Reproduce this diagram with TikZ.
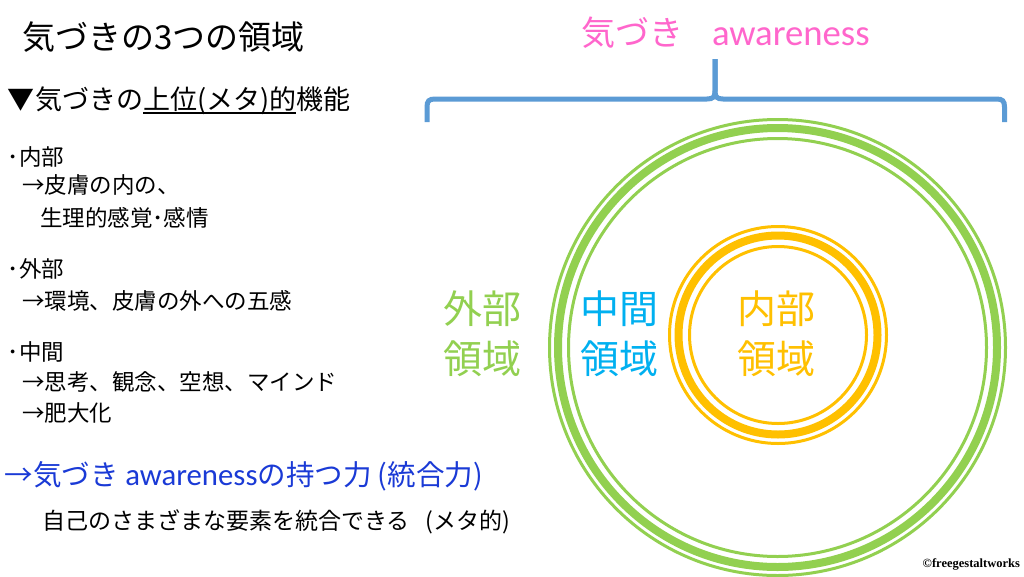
\documentclass[tikz,border=0pt]{standalone}
\usepackage{fontspec}
\setmainfont{Noto Sans CJK JP}
\newfontfamily\lat{Carlito}[Scale=1.08]
\newfontfamily\cserif{Liberation Serif}
\definecolor{ringgreen}{HTML}{92D050}
\definecolor{ringorange}{HTML}{FFC000}
\definecolor{midblue}{HTML}{00B0F0}
\definecolor{braceblue}{HTML}{5B9BD5}
\definecolor{awpink}{HTML}{FF66CC}
\definecolor{awblue}{HTML}{1A3AD6}
\begin{document}
\begin{tikzpicture}[x=1pt,y=-1pt,
  every node/.style={inner sep=0pt, outer sep=0pt},
  txt/.style={anchor=base west, text=black},
  titlef/.style={txt, font=\fontsize{33}{38}\selectfont},
  headf/.style={txt, font=\fontsize{27}{32}\selectfont},
  listf/.style={txt, font=\fontsize{22.5}{27}\selectfont},
  bluef/.style={txt, text=awblue, font=\fontsize{28.5}{34}\selectfont},
  notef/.style={txt, font=\fontsize{23}{28}\selectfont},
  region/.style={anchor=base, font=\fontsize{39}{46}\selectfont},
  thinring/.style={line width=3pt},
  thickring/.style={line width=8pt},
  bracestyle/.style={draw=braceblue, line width=5pt, line cap=butt}
]
\useasboundingbox[fill=white] (0,0) rectangle (1024,576);

% left text
\node[titlef] (title) at (22,49) {気づきの3つの領域};
\node[headf] (h1) at (8,109) {▼気づきの};
\node[headf] (h2) at (h1.base east) {上位(メタ)的};
\node[headf] (h3) at (h2.base east) {機能};
\draw[line width=1.5pt] ([yshift=-4pt]h2.base west) -- ([yshift=-4pt]h2.base east);

\node[listf] (in0) at (8,165.3) {･内部};
\node[listf] (in1) at (22,193.3) {→皮膚の内の、};
\node[listf] (in2) at (40,226.3) {生理的感覚･感情};
\node[listf] (ex0) at (8,277.3) {･外部};
\node[listf] (ex1) at (22,309.3) {→環境、皮膚の外への五感};
\node[listf] (md0) at (8,360.3) {･中間};
\node[listf] (md1) at (22,390.3) {→思考、観念、空想、マインド};
\node[listf] (md2) at (22,421.3) {→肥大化};
\node[bluef] (pw) at (5,485) {→気づき {\lat awareness}の持つ力 (統合力)};
\node[notef] (nt) at (42,529.5) {自己のさまざまな要素を統合できる\hspace{0.7em}(メタ的)};

% title on the right
\node[anchor=base west, text=awpink, font=\fontsize{34}{40}\selectfont] (aw) at (581,45) {気づき\hspace{29pt}{\lat awareness}};

% brace
\coordinate (bl) at (427,122);
\coordinate (br) at (1004.5,122);
\coordinate (bt) at (715,59);
\draw[bracestyle] (bl) -- (427,107) .. controls (427,101) and (429,99) .. (435,99) -- (707,99) .. controls (713,99) and (715,97) .. (715,91) -- (bt);
\draw[bracestyle] (bt) -- (715,91) .. controls (715,97) and (717,99) .. (723,99) -- (996.5,99) .. controls (1002.5,99) and (1004.5,101) .. (1004.5,107) -- (br);

% rings
\coordinate (gc) at (777.5,347.5);
\draw[ringgreen, thinring] (gc) circle[radius=228pt];
\draw[ringgreen, thickring] (gc) circle[radius=219.5pt];
\draw[ringgreen, thinring] (gc) circle[radius=209pt];
\coordinate (oc) at (778,335);
\draw[ringorange, thinring] (oc) circle[radius=108.5pt];
\draw[ringorange, thickring] (oc) circle[radius=99.5pt];
\draw[ringorange, thinring] (oc) circle[radius=88.5pt];

% region labels
\node[region, text=ringgreen] (exA) at (482,323) {外部};
\node[region, text=ringgreen] (exB) at (482,373) {領域};
\node[region, text=midblue] (mdA) at (619,323) {中間};
\node[region, text=midblue] (mdB) at (619,373) {領域};
\node[region, text=ringorange] (inA) at (776,323) {内部};
\node[region, text=ringorange] (inB) at (776,373) {領域};

% copyright
\node[anchor=base east, font=\cserif\bfseries\fontsize{12.5}{14}\selectfont] (cp) at (1020,567) {©freegestaltworks};
\end{tikzpicture}
\end{document}
